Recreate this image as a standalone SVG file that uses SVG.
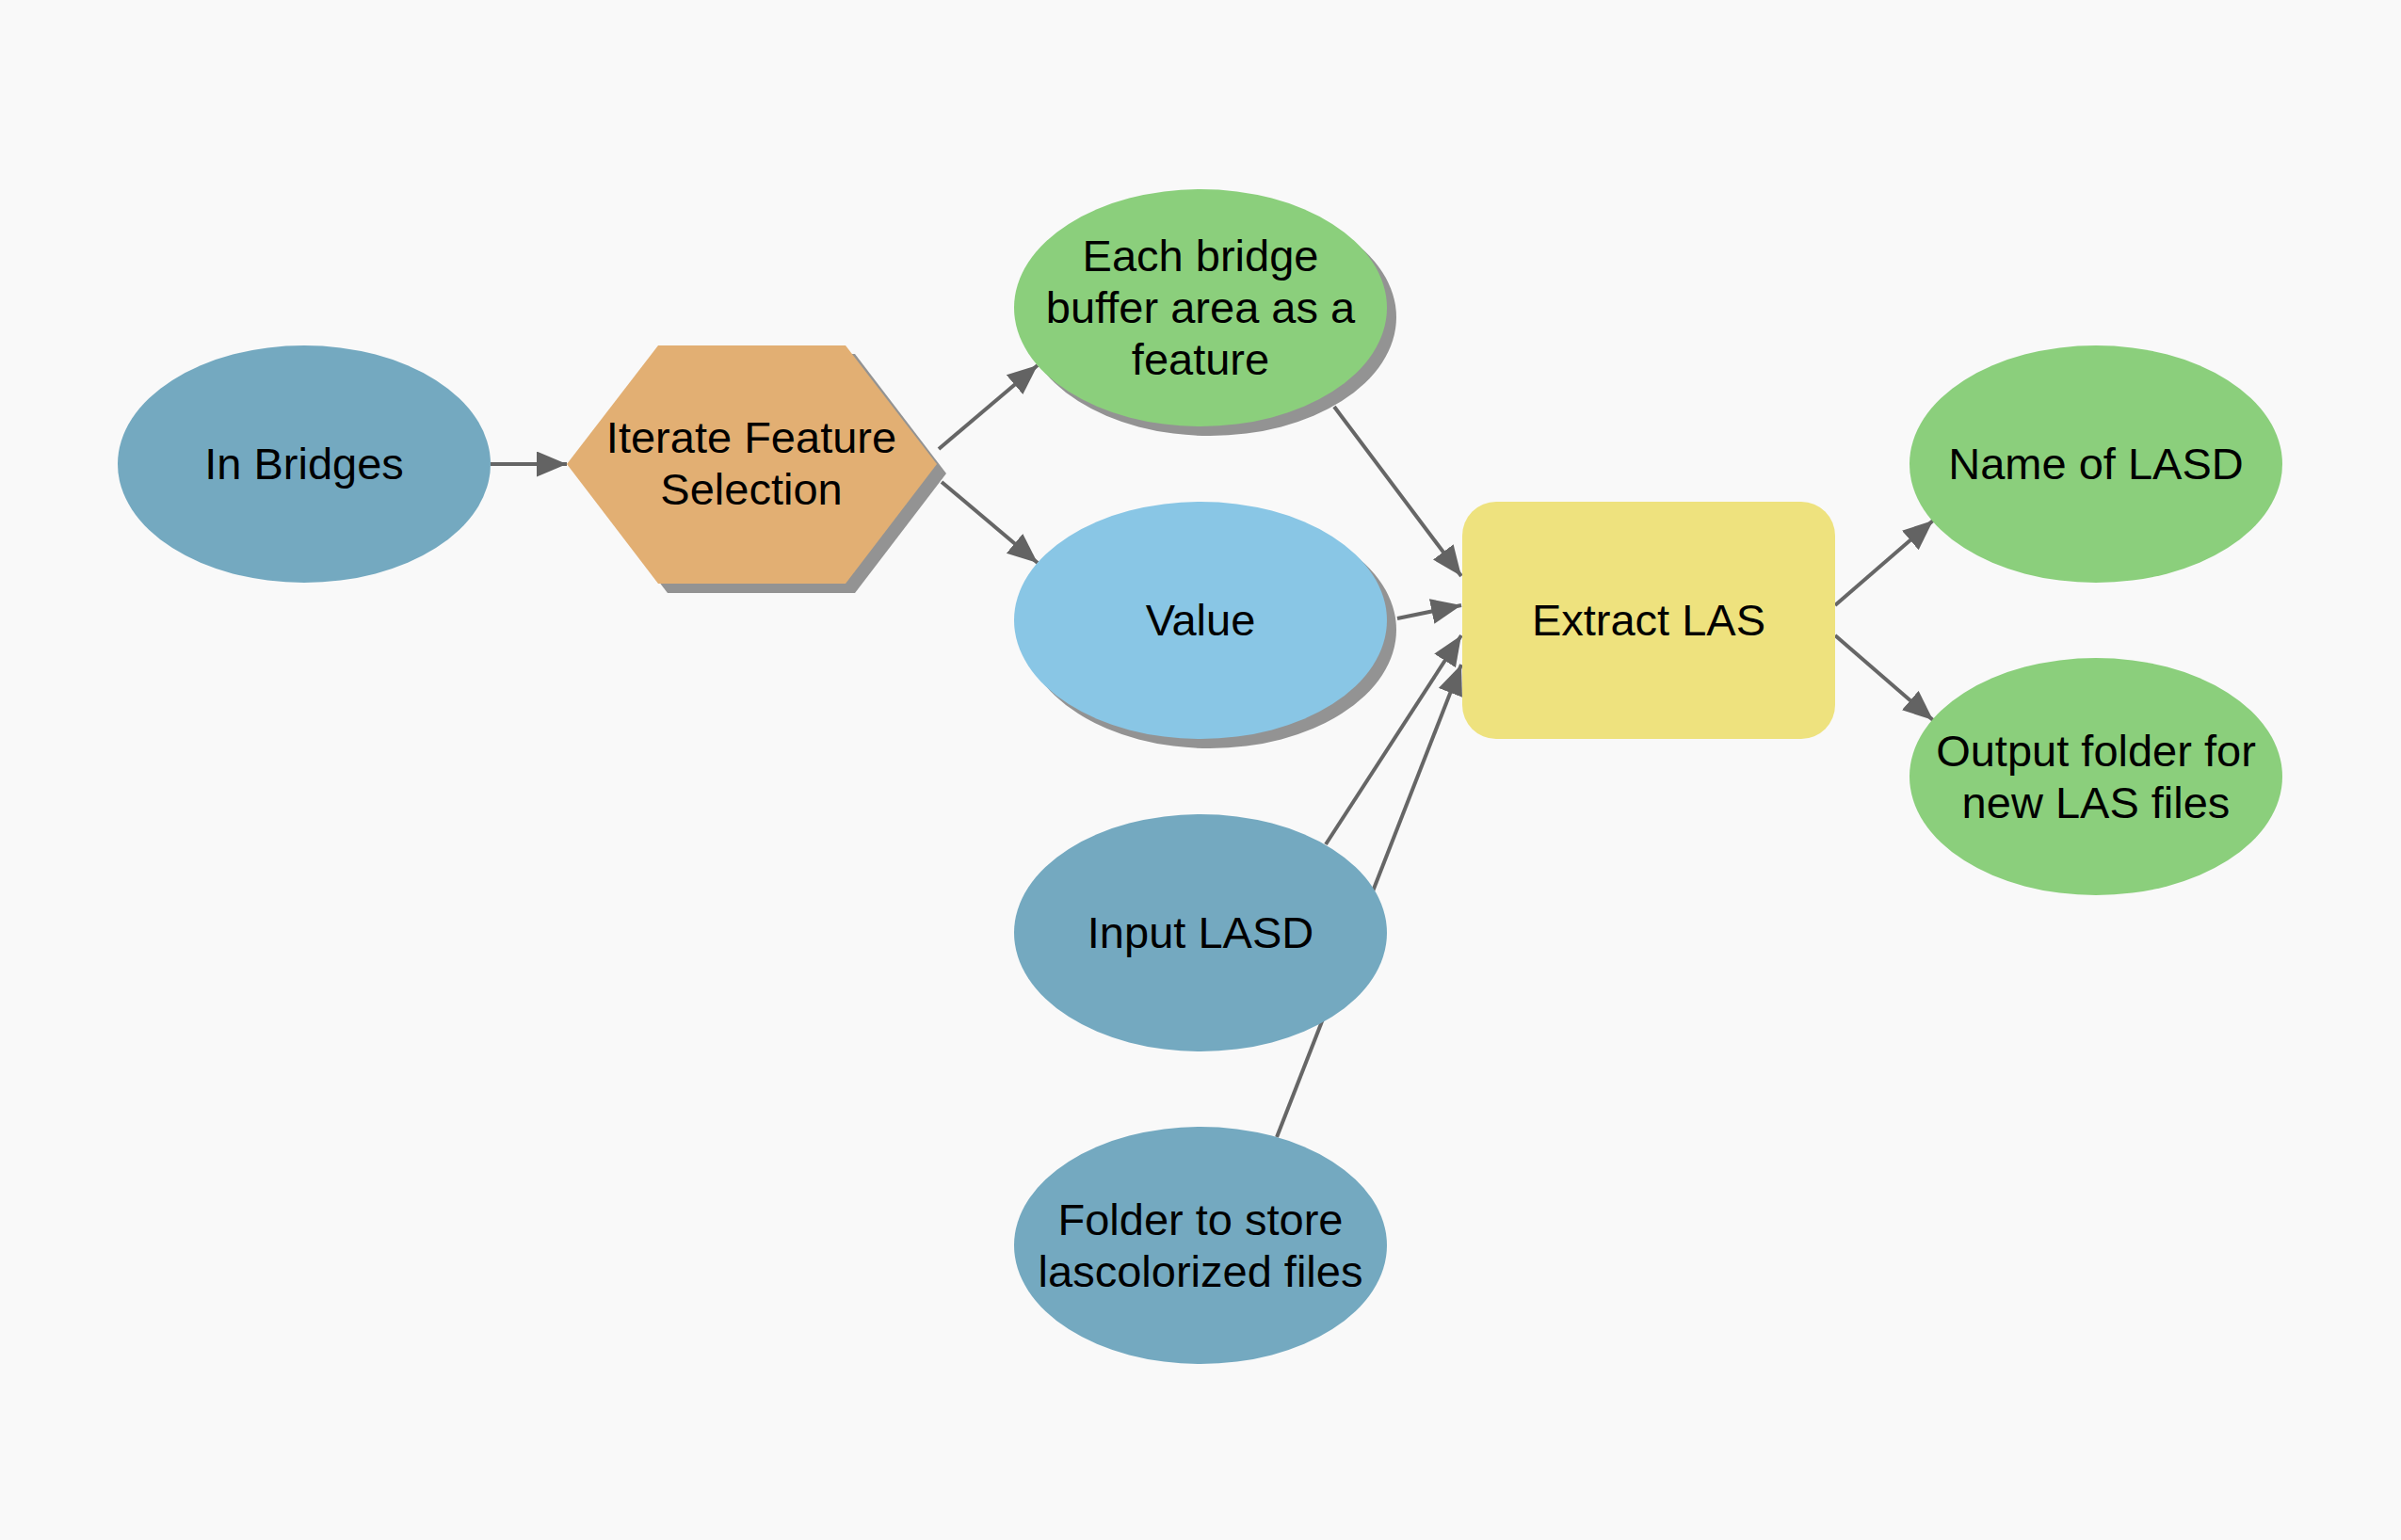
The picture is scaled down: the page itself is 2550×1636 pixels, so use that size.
<svg xmlns="http://www.w3.org/2000/svg" width="2550" height="1636" viewBox="0 0 2550 1636">
<defs>
<marker id="arr" markerUnits="userSpaceOnUse" markerWidth="34" markerHeight="30" refX="32" refY="13.5" orient="auto">
<path d="M0,0 L32,13.5 L0,27 z" fill="#636363"/>
</marker>
<style>
.lbl{font-family:"Liberation Sans",Arial,sans-serif;font-size:47px;fill:#000;text-anchor:middle}
.edge{stroke:#666;stroke-width:4;fill:none;marker-end:url(#arr)}
.shadow{fill:#939393}
.param{fill:#74A9C0}
.derived{fill:#8BCF7C}
.value{fill:#89C6E5}
.tool{fill:#EEE27E}
.iter{fill:#E2AF73}
</style>
</defs>
<rect x="0" y="0" width="2550" height="1636" fill="#F9F9F9"/>
<g id="connectors">
<line class="edge" x1="521" y1="493" x2="602" y2="493"/>
<line class="edge" x1="997" y1="477" x2="1102" y2="388"/>
<line class="edge" x1="1000" y1="512" x2="1102" y2="598"/>
<line class="edge" x1="1417" y1="432" x2="1552" y2="612"/>
<line class="edge" x1="1484" y1="657" x2="1552" y2="643"/>
<line class="edge" x1="1408" y1="897" x2="1552" y2="675"/>
<line class="edge" x1="1356" y1="1208" x2="1552" y2="706"/>
<line class="edge" x1="1949" y1="643" x2="2053" y2="553"/>
<line class="edge" x1="1949" y1="675" x2="2053" y2="765"/>
</g>
<g id="in-bridges">
<ellipse class="param" cx="323" cy="493" rx="198" ry="126"/>
<text class="lbl" x="323" y="509">In Bridges</text>
</g>
<g id="iterate-feature-selection">
<polygon class="shadow" points="612,503 709,376 908,376 1005,503 908,630 709,630"/>
<polygon class="iter" points="602,493 699,367 898,367 995,493 898,620 699,620"/>
<text class="lbl" x="798" y="481">Iterate Feature</text>
<text class="lbl" x="798" y="536">Selection</text>
</g>
<g id="each-bridge">
<ellipse class="shadow" cx="1285" cy="337" rx="198" ry="126"/>
<ellipse class="derived" cx="1275" cy="327" rx="198" ry="126"/>
<text class="lbl" x="1275" y="288">Each bridge</text>
<text class="lbl" x="1275" y="343">buffer area as a</text>
<text class="lbl" x="1275" y="398">feature</text>
</g>
<g id="value">
<ellipse class="shadow" cx="1285" cy="669" rx="198" ry="126"/>
<ellipse class="value" cx="1275" cy="659" rx="198" ry="126"/>
<text class="lbl" x="1275" y="675">Value</text>
</g>
<g id="input-lasd">
<ellipse class="param" cx="1275" cy="991" rx="198" ry="126"/>
<text class="lbl" x="1275" y="1007">Input LASD</text>
</g>
<g id="folder-to-store">
<ellipse class="param" cx="1275" cy="1323" rx="198" ry="126"/>
<text class="lbl" x="1275" y="1312">Folder to store</text>
<text class="lbl" x="1275" y="1367">lascolorized files</text>
</g>
<g id="extract-las">
<rect class="tool" x="1553" y="533" width="396" height="252" rx="36" ry="36"/>
<text class="lbl" x="1751" y="675">Extract LAS</text>
</g>
<g id="name-of-lasd">
<ellipse class="derived" cx="2226" cy="493" rx="198" ry="126"/>
<text class="lbl" x="2226" y="509">Name of LASD</text>
</g>
<g id="output-folder">
<ellipse class="derived" cx="2226" cy="825" rx="198" ry="126"/>
<text class="lbl" x="2226" y="814">Output folder for</text>
<text class="lbl" x="2226" y="869">new LAS files</text>
</g>
</svg>
